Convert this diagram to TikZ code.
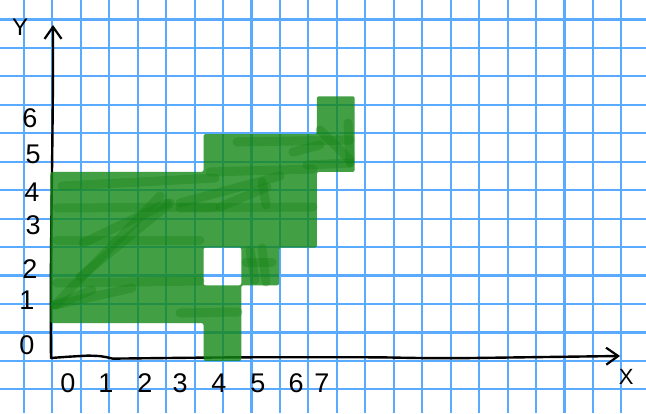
\documentclass[tikz,border=0pt]{standalone}
\usepackage{fontspec}
\setmainfont{Liberation Sans}
\usetikzlibrary{arrows.meta}
\definecolor{gridblue}{RGB}{90,170,255}
\definecolor{fillgreen}{RGB}{20,136,20}
\definecolor{strokegreen}{RGB}{20,128,20}
\begin{document}
\begin{tikzpicture}[x=37.8pt,y=37.8pt,
  gridline/.style={draw=gridblue,line width=2.1pt},
  axisline/.style={draw=black,line width=2.4pt,line cap=round,line join=round},
  axtip/.style={-{Straight Barb[length=12pt,width=17pt,line width=2.2pt]}},
  lab/.style={font=\fontsize{27}{27}\selectfont,inner sep=0pt},
  area/.style={fill=fillgreen,fill opacity=0.8,even odd rule,rounded corners=2pt},
  scrib/.style={draw=strokegreen,draw opacity=0.35,line width=9pt,line cap=round,line join=round}]
\useasboundingbox (-1.3836,-1.3783) rectangle (15.7063,9.5476);
\fill[white] (-1.3836,-1.3783) rectangle (15.7063,9.5476);
\draw[gridline] (-1.3836,-1.3783) grid (15.7063,9.5476);
% axes
\coordinate (O) at (-0.034,0.077);
\coordinate (Ytip) at (0.018,8.886);
\coordinate (Xtip) at (15.02,0.13);
\draw[axisline,axtip] (O) .. controls (-0.07,2.5) and (0.03,6) .. (Ytip);
\draw[axisline,axtip] (O) .. controls (0.4,0.11) .. (0.94,0.14) .. controls (1.3,0.13) .. (1.6,0.06) .. controls (5,0.1) .. (8.67,0.095) .. controls (10,0.07) .. (11,0.075) -- (Xtip);
% green area
\path[area] (4,0) -- (5,0) -- (5,2) -- (6,2) -- (6,3) -- (7,3) -- (7,5) -- (8,5) -- (8,7) -- (7,7) -- (7,6) -- (4,6) -- (4,5) -- (-0.05,5) -- (-0.05,1) -- (4,1) -- cycle
  (4,2) -- (5,2) -- (5,3) -- (4,3) -- cycle;
\begin{scope}[shift={(-52.3pt,360.9pt)},x=1pt,y=-1pt]
\draw[scrib] (62,186) -- (140,182) -- (215,178);
\draw[scrib] (57,208) -- (215,207);
\draw[scrib] (57,240) -- (200,240);
\draw[scrib] (57,283) -- (200,281);
\draw[scrib] (55,305) -- (160,196);
\draw[scrib] (55,305) -- (92,290);
\draw[scrib] (55,305) -- (132,288);
\draw[scrib] (80,277) -- (170,203);
\draw[scrib] (83,243) -- (167,203);
\draw[scrib] (180,313) -- (238,312);
\draw[scrib] (237,142) -- (350,140);
\draw[scrib] (293,152) -- (320,145);
\draw[scrib] (307,165) -- (350,163);
\draw[scrib] (320,130) -- (350,160);
\draw[scrib] (348,123) -- (350,163);
\draw[scrib] (210,172) -- (313,169);
\draw[scrib] (180,203) -- (280,176);
\draw[scrib] (220,207) -- (267,187);
\draw[scrib] (262,182) -- (266,205);
\draw[scrib] (180,208) -- (313,207);
\draw[scrib] (250,250) -- (255,280);
\draw[scrib] (262,248) -- (266,282);
\draw[scrib] (246,262) -- (272,262);
\end{scope}
% labels
\node[lab] (ly6) at (-0.59,6.42) {6};
\node[lab] (ly5) at (-0.51,5.47) {5};
\node[lab] (ly4) at (-0.54,4.47) {4};
\node[lab] (ly3) at (-0.51,3.59) {3};
\node[lab] (ly2) at (-0.59,2.43) {2};
\node[lab] (ly1) at (-0.67,1.61) {1};
\node[lab] (ly0) at (-0.67,0.42) {0};
\node[lab] (lx0) at (0.415,-0.585) {0};
\node[lab] (lx1) at (1.42,-0.585) {1};
\node[lab] (lx2) at (2.45,-0.585) {2};
\node[lab] (lx3) at (3.38,-0.585) {3};
\node[lab] (lx4) at (4.41,-0.585) {4};
\node[lab] (lx5) at (5.44,-0.585) {5};
\node[lab] (lx6) at (6.45,-0.585) {6};
\node[lab] (lx7) at (7.13,-0.585) {7};
\node[lab,font=\fontsize{24}{24}\selectfont] (ylab) at (-0.854,8.83) {Y};
\node[lab,font=\fontsize{22}{22}\selectfont] (xlab) at (15.18,-0.43) {X};
\end{tikzpicture}
\end{document}
